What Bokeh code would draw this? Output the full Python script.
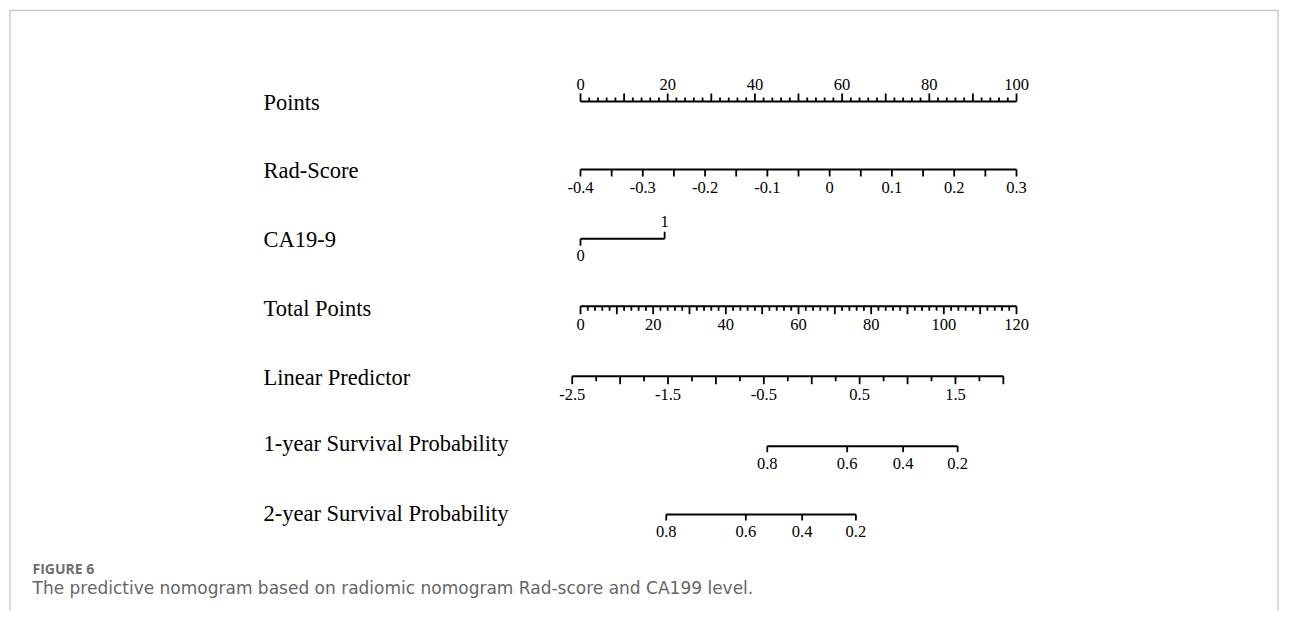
from bokeh.plotting import figure
from bokeh.models import Range1d, ColumnDataSource
from bokeh.core.properties import value
from bokeh.embed import file_html
from bokeh.resources import INLINE
import numpy as np

# ---------------- data ----------------
row_names = ["Points", "Rad-Score", "CA19-9", "Total Points", "Linear Predictor",
             "1-year Survival Probability", "2-year Survival Probability"]

points_range = [0, 100]
points_labels = [0, 20, 40, 60, 80, 100]
points_major_step = 10
points_minor_step = 2

rad_range = [-0.4, 0.3]            # spans 0..100 points
rad_labels = [-0.4, -0.3, -0.2, -0.1, 0, 0.1, 0.2, 0.3]
rad_tick_step = 0.05

ca199_values = [0, 1]
ca199_points = [0, 19.3]

total_range = [0, 120]             # spans the same width as 0..100 points
total_labels = [0, 20, 40, 60, 80, 100, 120]
total_major_step = 10
total_minor_step = 2

lp_range = [-2.5, 2.0]
lp_labels = [-2.5, -1.5, -0.5, 0.5, 1.5]
lp_tick_step = 0.25
lp_ref_values = [-2.5, 1.5]        # linear predictor at two total-point positions
lp_ref_total = [-2.28, 103.2]

surv1_values = [0.8, 0.6, 0.4, 0.2]
surv1_total = [51.4, 73.4, 88.8, 103.8]
surv2_values = [0.8, 0.6, 0.4, 0.2]
surv2_total = [23.6, 45.5, 61.0, 75.8]

caption_title = "FIGURE 6"
caption_text = "The predictive nomogram based on radiomic nomogram Rad-score and CA199 level."

# ---------------- layout ----------------
W, H = 1279, 610
X0, PPP = 580.0, 4.36            # canvas px of 0 points, px per point


def sx(px):
    return (px - X0) / PPP


p = figure(width=W, height=H, output_backend="svg", toolbar_location=None,
           x_range=Range1d(sx(0), sx(W)), y_range=Range1d(H, 0),
           x_axis_location=None, y_axis_location=None, min_border=0)
p.grid.visible = False
p.outline_line_color = None
p.background_fill_color = "white"
p.border_fill_color = "white"

SERIF = value("Liberation Serif")
INK = "#000000"
TICK_FS = "16.5px"


def fmt(v):
    s = f"{v:.2f}".rstrip("0").rstrip(".")
    return "0" if s in ("-0", "") else s


def total_to_pts(t):
    t = np.asarray(t, dtype=float)
    return (t - total_range[0]) / (total_range[1] - total_range[0]) * 100.0


def rad_to_pts(v):
    v = np.asarray(v, dtype=float)
    return (v - rad_range[0]) / (rad_range[1] - rad_range[0]) * 100.0


def lp_to_pts(v):
    v = np.asarray(v, dtype=float)
    slope = (lp_ref_total[1] - lp_ref_total[0]) / (lp_ref_values[1] - lp_ref_values[0])
    return total_to_pts(lp_ref_total[0] + (v - lp_ref_values[0]) * slope)


def draw_axis(y, x_min, x_max, ticks, tick_len, direction, lab_x, lab_txt, lab_y):
    p.segment(x0=[x_min], y0=[y], x1=[x_max], y1=[y], line_color=INK, line_width=2)
    ticks = np.asarray(ticks, dtype=float)
    tick_len = np.broadcast_to(np.asarray(tick_len, dtype=float), ticks.shape)
    p.segment(x0=ticks, y0=np.full(ticks.shape, y), x1=ticks,
              y1=y + direction * tick_len, line_color=INK, line_width=1.8)
    src = ColumnDataSource(dict(x=list(lab_x), y=[lab_y] * len(lab_x), t=lab_txt))
    p.text(x="x", y="y", text="t", source=src, text_font=SERIF, text_font_size=TICK_FS,
           text_align="center", text_baseline="middle", text_color=INK)


# row labels
row_label_y = [101.7, 170, 239.3, 308.3, 376.7, 443.3, 512.7]
p.text(x=[sx(263)] * len(row_names), y=row_label_y, text=row_names, text_font=SERIF,
       text_font_size="22.5px", text_align="left", text_baseline="middle", text_color=INK)

# Points
pt_ticks = np.arange(points_range[0], points_range[1] + 0.001, points_minor_step)
pt_len = [8 if abs(t % points_major_step) < 1e-9 else 4 for t in pt_ticks]
draw_axis(101, points_range[0], points_range[1], pt_ticks, pt_len, -1,
          points_labels, [fmt(v) for v in points_labels], 83.5)

# Rad-Score
rad_ticks = np.arange(rad_range[0], rad_range[1] + 1e-6, rad_tick_step)
draw_axis(169, rad_to_pts(rad_range[0]), rad_to_pts(rad_range[1]), rad_to_pts(rad_ticks), 7, 1,
          rad_to_pts(rad_labels), [fmt(v) for v in rad_labels], 186.7)

# CA19-9 (0 below, 1 above)
CA_Y = 238.3
p.segment(x0=[ca199_points[0]], y0=[CA_Y], x1=[ca199_points[1]], y1=[CA_Y], line_color=INK, line_width=2)
p.segment(x0=ca199_points, y0=[CA_Y, CA_Y], x1=ca199_points, y1=[CA_Y + 7, CA_Y - 7],
          line_color=INK, line_width=1.8)
p.text(x=ca199_points, y=[255, 221], text=[fmt(v) for v in ca199_values], text_font=SERIF,
       text_font_size=TICK_FS, text_align="center", text_baseline="middle", text_color=INK)

# Total Points
tot_ticks = np.arange(total_range[0], total_range[1] + 0.001, total_minor_step)
tot_len = [8 if abs(t % total_major_step) < 1e-9 else 4.5 for t in tot_ticks]
draw_axis(305.7, total_to_pts(total_range[0]), total_to_pts(total_range[1]), total_to_pts(tot_ticks),
          tot_len, 1, total_to_pts(total_labels), [fmt(v) for v in total_labels], 324.3)

# Linear Predictor
lp_ticks = np.arange(lp_range[0], lp_range[1] + 1e-6, lp_tick_step)
lp_len = [8 if abs((t * 2) - round(t * 2)) < 1e-9 else 5 for t in lp_ticks]
draw_axis(375.7, lp_to_pts(lp_range[0]), lp_to_pts(lp_range[1]), lp_to_pts(lp_ticks), lp_len, 1,
          lp_to_pts(lp_labels), [fmt(v) for v in lp_labels], 394)

# Survival probabilities
s1 = total_to_pts(surv1_total)
draw_axis(445.7, s1.min(), s1.max(), s1, 6, 1, s1, [fmt(v) for v in surv1_values], 463.3)
s2 = total_to_pts(surv2_total)
draw_axis(514, s2.min(), s2.max(), s2, 6, 1, s2, [fmt(v) for v in surv2_values], 531)

# frame
FR = "#cccccc"
p.segment(x0=[sx(9.5), sx(9.5), sx(1277.5)], y0=[10, 10, 10], x1=[sx(1277.5), sx(9.5), sx(1277.5)],
          y1=[10, H, H], line_color=FR, line_width=1.5)

# caption
p.text(x=[sx(32)], y=[568], text=[caption_title], text_font=value("Open Sans"), text_font_style="bold",
       text_font_size="14px", text_color="#6e6e6e", text_baseline="middle")
p.text(x=[sx(32)], y=[587], text=[caption_text], text_font=value("DejaVu Sans"),
       text_font_size="17px", text_color="#666666", text_baseline="middle")

open("out.html", "w").write(file_html(p, INLINE))
